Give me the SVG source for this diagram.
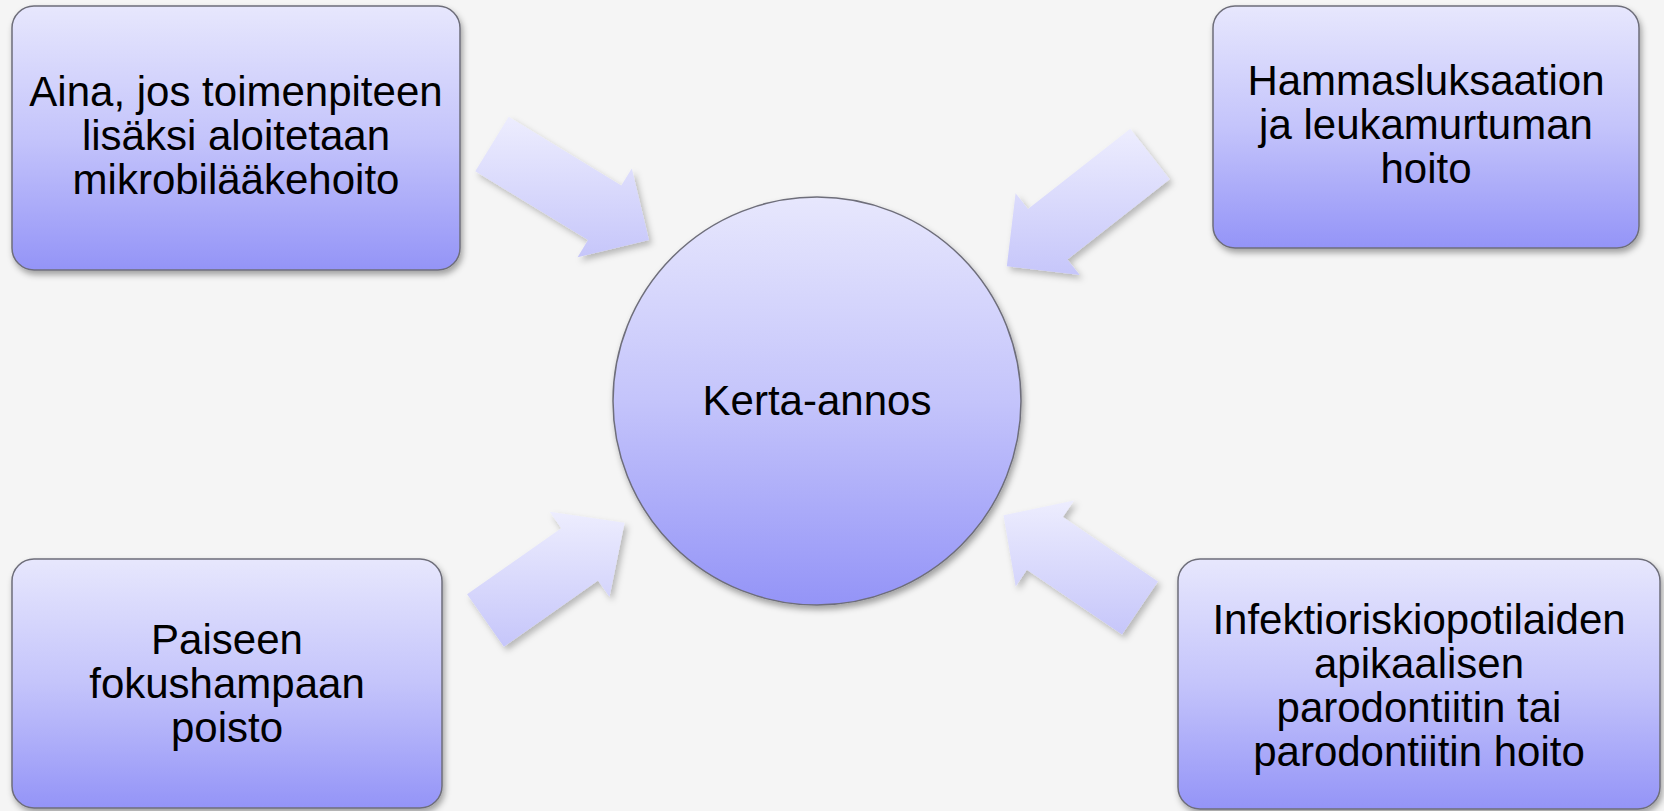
<svg xmlns="http://www.w3.org/2000/svg" width="1664" height="811" viewBox="0 0 1664 811">
<defs>
<linearGradient id="boxGrad" x1="0" y1="0" x2="0" y2="1">
<stop offset="0" stop-color="#e7e7fd"/>
<stop offset="0.5" stop-color="#c4c4fb"/>
<stop offset="1" stop-color="#9494f7"/>
</linearGradient>
<linearGradient id="arrowGrad" x1="0" y1="0" x2="0" y2="1">
<stop offset="0" stop-color="#ededfe"/>
<stop offset="1" stop-color="#c6c6fa"/>
</linearGradient>
<filter id="shadow" x="-20%" y="-20%" width="140%" height="140%">
<feDropShadow dx="2" dy="4" stdDeviation="3" flood-color="#000" flood-opacity="0.35"/>
</filter>
<filter id="ashadow" x="-20%" y="-20%" width="140%" height="140%">
<feDropShadow dx="3" dy="4" stdDeviation="3" flood-color="#000" flood-opacity="0.25"/>
</filter>
</defs>
<style>
.box{fill:url(#boxGrad);stroke:#6e6e7a;stroke-width:1.5;filter:url(#shadow)}
.arrow{fill:url(#arrowGrad);stroke:none;filter:url(#ashadow)}
.lbl{font-family:"Liberation Sans",Arial,sans-serif;font-size:42px;fill:#000;text-anchor:middle}
</style>
<rect x="0" y="0" width="1664" height="811" fill="#f5f5f5"/>

<g id="connectors">
<polygon class="arrow" points="508.7,116.7 621.3,185.5 631.8,168.4 649.0,239.9 577.6,257.2 588.0,240.1 475.3,171.3"/>
<polygon class="arrow" points="1169.7,179.2 1067.4,259.4 1079.8,275.1 1006.8,266.3 1015.6,193.3 1028.0,209.0 1130.3,128.8"/>
<polygon class="arrow" points="467.1,594.3 561.2,528.2 549.7,511.8 624.6,522.8 609.5,596.9 598.0,580.6 503.9,646.7"/>
<polygon class="arrow" points="1122.0,634.5 1026.9,569.8 1015.7,586.4 1003.5,515.3 1074.1,500.4 1062.9,516.9 1158.0,581.5"/>
</g>

<g id="node-top-left">
<rect class="box" x="12" y="6" width="448" height="264" rx="22"/>
<text class="lbl"><tspan x="236" y="106">Aina, jos toimenpiteen</tspan><tspan x="236" y="150">lisäksi aloitetaan</tspan><tspan x="236" y="194">mikrobilääkehoito</tspan></text>
</g>

<g id="node-top-right">
<rect class="box" x="1213" y="6" width="426" height="242" rx="22"/>
<text class="lbl"><tspan x="1426" y="95">Hammasluksaation</tspan><tspan x="1426" y="139">ja leukamurtuman</tspan><tspan x="1426" y="183">hoito</tspan></text>
</g>

<g id="node-bottom-left">
<rect class="box" x="12" y="559" width="430" height="249" rx="22"/>
<text class="lbl"><tspan x="227" y="654">Paiseen</tspan><tspan x="227" y="698">fokushampaan</tspan><tspan x="227" y="742">poisto</tspan></text>
</g>

<g id="node-bottom-right">
<rect class="box" x="1178" y="559" width="482" height="250" rx="22"/>
<text class="lbl"><tspan x="1419" y="634">Infektioriskiopotilaiden</tspan><tspan x="1419" y="678">apikaalisen</tspan><tspan x="1419" y="722">parodontiitin tai</tspan><tspan x="1419" y="766">parodontiitin hoito</tspan></text>
</g>

<g id="node-center">
<circle class="box" cx="817" cy="401" r="204"/>
<text class="lbl" x="817" y="415">Kerta-annos</text>
</g>
</svg>
